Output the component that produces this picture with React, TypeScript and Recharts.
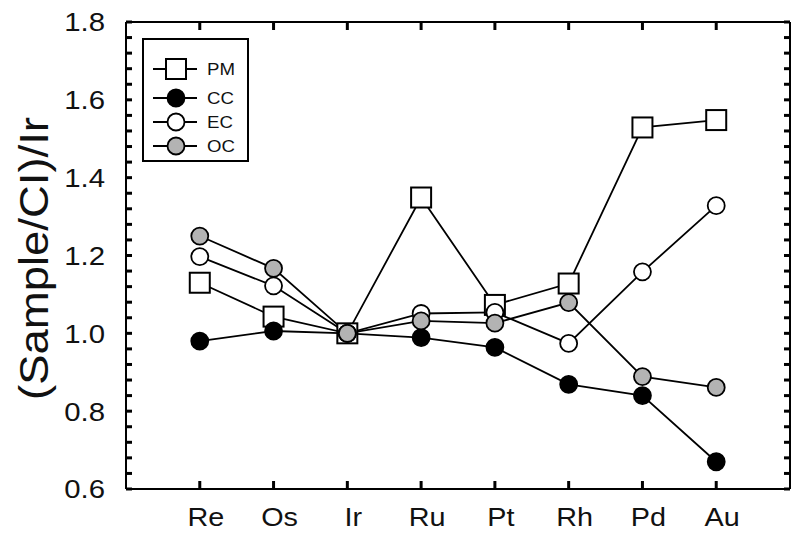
import React from 'react';
import { LineChart, Line, XAxis, YAxis, Legend, Label } from 'recharts';

const categories = ['Re', 'Os', 'Ir', 'Ru', 'Pt', 'Rh', 'Pd', 'Au'];
const categoryPositions = [1, 2, 3, 4, 5, 6, 7, 8];
const pmValues = [1.13, 1.043, 1.0, 1.349, 1.073, 1.128, 1.529, 1.548];
const ccValues = [0.98, 1.006, 1.0, 0.989, 0.964, 0.869, 0.84, 0.67];
const ecValues = [1.197, 1.122, 1.0, 1.051, 1.054, 0.974, 1.158, 1.328];
const ocValues = [1.25, 1.167, 1.0, 1.032, 1.026, 1.079, 0.889, 0.861];
const yTicks = [
  0.6, 0.64, 0.68, 0.72, 0.76, 0.8, 0.84, 0.88, 0.92, 0.96, 1.0, 1.04, 1.08, 1.12, 1.16, 1.2,
  1.24, 1.28, 1.32, 1.36, 1.4, 1.44, 1.48, 1.52, 1.56, 1.6, 1.64, 1.68, 1.72, 1.76, 1.8,
];
const yMajorTicks = [0.6, 0.8, 1.0, 1.2, 1.4, 1.6, 1.8];
const seriesNames = ['PM', 'CC', 'EC', 'OC'];
const seriesXAxis: Record<string, string | number> = { PM: 'top', CC: 0, EC: 0, OC: 0 };
const seriesYAxis: Record<string, string | number> = { PM: 'right', CC: 0, EC: 0, OC: 0 };

const data = categories.map((name, i) => ({
  x: categoryPositions[i],
  name,
  PM: pmValues[i],
  CC: ccValues[i],
  EC: ecValues[i],
  OC: ocValues[i],
}));

const FONT = '"Liberation Sans", Arial, Helvetica, sans-serif';
const BLACK = '#000';
const GRAY = '#b3b3b3';
const TEXT = '#111';
const TICK = { stroke: '#000', strokeWidth: 3 };
const STRETCH = 1.13;

const isMajor = (v: number) => yMajorTicks.some((m) => Math.abs(m - Number(v)) < 1e-6);

const LeftTick = (props: any) => {
  const x = Number(props.x);
  const y = Number(props.y);
  const v = Number(props.payload.value);
  if (!isMajor(v)) return <g />;
  return (
    <g transform={`translate(${x - 21},${y}) scale(${STRETCH},1)`}>
      <text x={0} y={0} dy="0.36em" textAnchor="end" fontSize={26} fontFamily={FONT} fill={TEXT}>
        {v.toFixed(1)}
      </text>
    </g>
  );
};

const BottomTick = (props: any) => {
  const x = Number(props.x);
  const y = Number(props.y);
  const idx = categoryPositions.indexOf(Number(props.payload.value));
  return (
    <g transform={`translate(${x + 6},${y + 19}) scale(${STRETCH},1)`}>
      <text x={0} y={0} dy="0.71em" textAnchor="middle" fontSize={25.5} fontFamily={FONT} fill={TEXT}>
        {categories[idx]}
      </text>
    </g>
  );
};

const EmptyTick = () => <g />;

const fills: Record<string, string> = { PM: '#fff', CC: BLACK, EC: '#fff', OC: GRAY };

const Marker = ({ name, cx, cy }: { name: string; cx: number; cy: number }) => {
  if (name === 'PM') {
    const s = 20;
    return <rect x={cx - s / 2} y={cy - s / 2} width={s} height={s} fill="#fff" stroke={BLACK} strokeWidth={2} />;
  }
  return <circle cx={cx} cy={cy} r={8.5} fill={fills[name]} stroke={BLACK} strokeWidth={1.8} />;
};

const makeDot = (name: string) => (props: any) => {
  const { cx, cy, index } = props;
  if (cx == null || cy == null) return <g key={`${name}-${index}`} />;
  return (
    <g key={`${name}-${index}`}>
      <Marker name={name} cx={cx} cy={cy} />
    </g>
  );
};

const legendRows = [31, 60, 84, 108];

const LegendBox = () => (
  <svg width={108} height={125} style={{ display: 'block' }}>
    <rect x={1} y={1} width={105} height={122} fill="#fff" stroke={BLACK} strokeWidth={2} />
    {seriesNames.map((n, i) => (
      <g key={n}>
        <line x1={11} x2={55} y1={legendRows[i]} y2={legendRows[i]} stroke={BLACK} strokeWidth={1.8} />
        <Marker name={n} cx={34} cy={legendRows[i]} />
        <g transform={`translate(65,${legendRows[i]}) scale(${STRETCH},1)`}>
          <text x={0} y={0} dy="0.36em" fontSize={16.5} fontFamily={FONT} fill={TEXT}>
            {n}
          </text>
        </g>
      </g>
    ))}
  </svg>
);

const YLabel = (props: any) => {
  const vb = props.viewBox || {};
  const cx = (vb.x ?? 56) - 22;
  const cy = (vb.y ?? 22) + (vb.height ?? 467) / 2 + 3;
  return (
    <text
      x={cx}
      y={cy}
      transform={`rotate(-90 ${cx} ${cy})`}
      textAnchor="middle"
      dominantBaseline="central"
      fontSize={40}
      textLength={283}
      lengthAdjust="spacingAndGlyphs"
      fontFamily={FONT}
      fill={TEXT}
    >
      (Sample/CI)/Ir
    </text>
  );
};

export default function App() {
  return (
    <div style={{ position: 'absolute', left: 0, top: 0, width: 800, height: 535, background: '#fff' }}>
      <LineChart width={800} height={535} data={data} margin={{ top: 12, right: 0, bottom: 6, left: 56 }}>
        <XAxis
          dataKey="x"
          type="number"
          domain={[0, 9]}
          ticks={categoryPositions}
          interval={0}
          height={40}
          tickSize={-8}
          tickMargin={8}
          tickLine={TICK}
          axisLine={{ stroke: BLACK, strokeWidth: 2 }}
          tick={(p: any) => <BottomTick {...p} />}
        />
        <XAxis
          xAxisId="top"
          orientation="top"
          dataKey="x"
          type="number"
          domain={[0, 9]}
          ticks={categoryPositions}
          interval={0}
          height={10}
          hide={false}
          tickSize={-8}
          tickMargin={8}
          tickLine={TICK}
          axisLine={{ stroke: 'black', strokeWidth: 2 }}
          tick={(p: any) => <EmptyTick {...p} />}
        />
        <YAxis
          type="number"
          domain={[0.6, 1.8]}
          ticks={yTicks}
          interval={0}
          width={70}
          tickSize={-6}
          tickMargin={6}
          tickLine={TICK}
          axisLine={{ stroke: BLACK, strokeWidth: 2 }}
          tick={(p: any) => <LeftTick {...p} />}
        >
          <Label content={<YLabel />} />
        </YAxis>
        <YAxis
          yAxisId="right"
          orientation="right"
          type="number"
          domain={[0.6, 1.8]}
          ticks={yTicks}
          interval={0}
          width={10}
          hide={false}
          tickSize={-6}
          tickMargin={6}
          tickLine={TICK}
          axisLine={{ stroke: 'black', strokeWidth: 2 }}
          tick={(p: any) => <EmptyTick {...p} />}
        />
        <Legend
          layout="horizontal"
          verticalAlign="middle"
          align="center"
          content={() => <LegendBox />}
          wrapperStyle={{ position: 'absolute', left: 142, top: 38, width: 108, height: 125 }}
        />
        {seriesNames.map((n) => (
          <Line
            key={n}
            dataKey={n}
            xAxisId={seriesXAxis[n]}
            yAxisId={seriesYAxis[n]}
            type="linear"
            stroke={BLACK}
            strokeWidth={1.8}
            dot={makeDot(n)}
            activeDot={false}
            isAnimationActive={false}
          />
        ))}
      </LineChart>
    </div>
  );
}
